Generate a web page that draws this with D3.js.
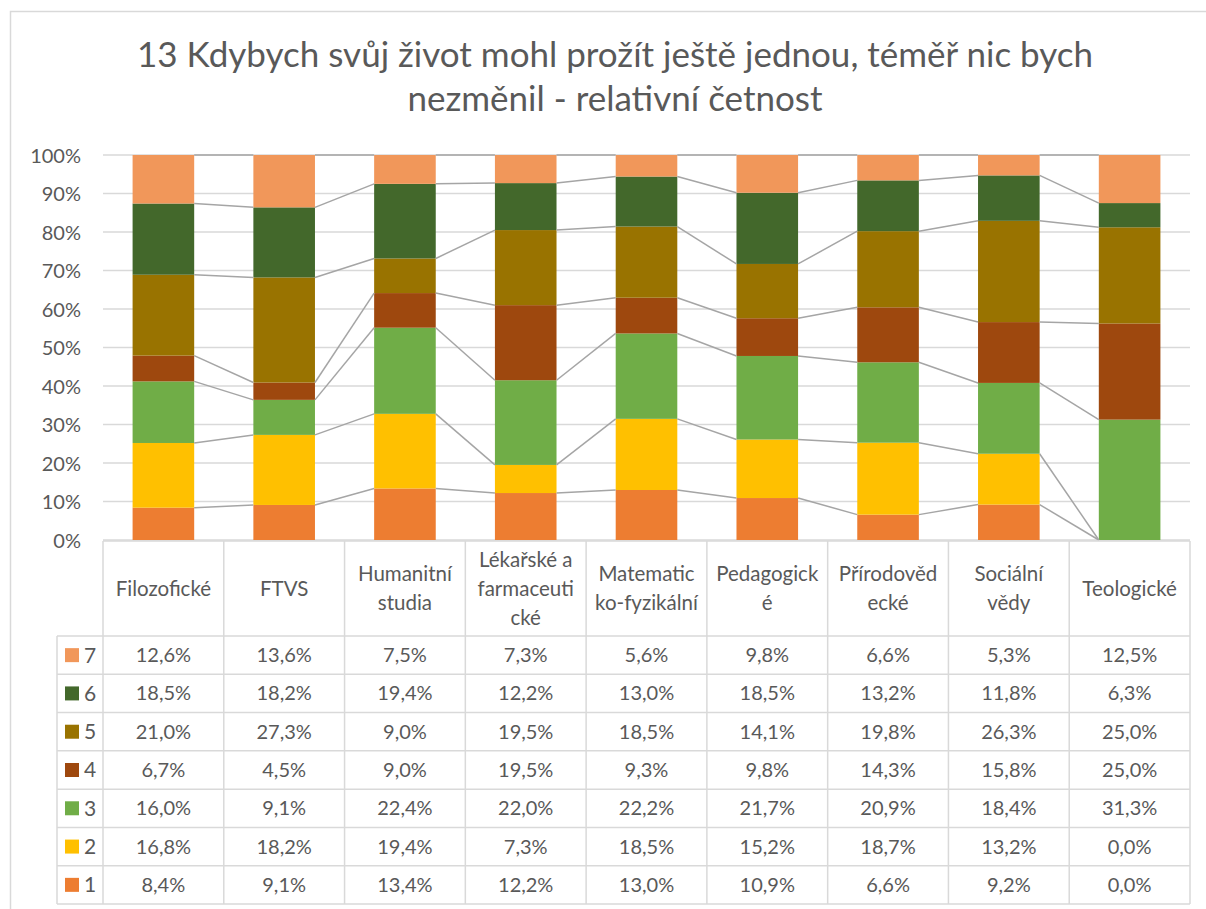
<!DOCTYPE html>
<html>
<head>
<meta charset="utf-8">
<script src="https://cdn.jsdelivr.net/npm/d3@7"></script>
<style>
  body { margin: 0; background: #fff; }
  text { font-family: Lato, "Open Sans", sans-serif; fill: #595959; }
</style>
</head>
<body>
<svg id="chart" width="1206" height="909"></svg>
<script>
// categories (faculties) and how Excel wrapped them in the table header
var faculties = ["Filozofické", "FTVS", "Humanitní studia", "Lékařské a farmaceutické",
  "Matematicko-fyzikální", "Pedagogické", "Přírodovědecké", "Sociální vědy", "Teologické"];
var headerLines = [["Filozofické"], ["FTVS"], ["Humanitní", "studia"], ["Lékařské a", "farmaceuti", "cké"],
  ["Matematic", "ko-fyzikální"], ["Pedagogick", "é"], ["Přírodověd", "ecké"], ["Sociální", "vědy"], ["Teologické"]];

// answer scale 1..7, relative frequencies in %
var answers = ["1", "2", "3", "4", "5", "6", "7"];
var s1 = [8.4, 9.1, 13.4, 12.2, 13.0, 10.9, 6.6, 9.2, 0.0];
var s2 = [16.8, 18.2, 19.4, 7.3, 18.5, 15.2, 18.7, 13.2, 0.0];
var s3 = [16.0, 9.1, 22.4, 22.0, 22.2, 21.7, 20.9, 18.4, 31.3];
var s4 = [6.7, 4.5, 9.0, 19.5, 9.3, 9.8, 14.3, 15.8, 25.0];
var s5 = [21.0, 27.3, 9.0, 19.5, 18.5, 14.1, 19.8, 26.3, 25.0];
var s6 = [18.5, 18.2, 19.4, 12.2, 13.0, 18.5, 13.2, 11.8, 6.3];
var s7 = [12.6, 13.6, 7.5, 7.3, 5.6, 9.8, 6.6, 5.3, 12.5];
var yTicks = [0, 0.1, 0.2, 0.3, 0.4, 0.5, 0.6, 0.7, 0.8, 0.9, 1];

var colors = ["#ED7D31", "#FFC000", "#70AD47", "#9E480E", "#997300", "#43682B", "#F1975A"];
var title = ["13 Kdybych svůj život mohl prožít ještě jednou, téměř nic bych", "nezměnil - relativní četnost"];

var series = [s1, s2, s3, s4, s5, s6, s7];
var rows = faculties.map(function(f, i) {
  var r = { faculty: f };
  answers.forEach(function(a, k) { r[a] = series[k][i]; });
  return r;
});

var svg = d3.select("#chart");
var grid = "#d9d9d9";

// chart area border
svg.append("rect")
    .attr("x", 10.5).attr("y", 11.5)
    .attr("width", 1220).attr("height", 920)
    .attr("fill", "none").attr("stroke", grid).attr("stroke-width", 1.5);

svg.append("text")
    .attr("text-anchor", "middle")
    .style("font-size", "35px")
    .selectAll("tspan")
    .data(title)
  .join("tspan")
    .attr("x", 615)
    .attr("y", function(d, i) { return 67 + i * 44; })
    .text(function(d) { return d; });

var plotLeft = 103, plotRight = 1190, plotTop = 155, plotBottom = 540;

var x = d3.scaleBand().domain(faculties).range([plotLeft, plotRight]).paddingInner(0.49).paddingOuter(0.245);
var band = (plotRight - plotLeft) / faculties.length;
var y = d3.scaleLinear().domain([0, 1]).range([plotBottom, plotTop]);

var stack = d3.stack().keys(answers).offset(d3.stackOffsetExpand);
var stacked = stack(rows);

// gridlines + y labels
svg.append("g")
    .selectAll("line")
    .data(yTicks)
  .join("line")
    .attr("x1", plotLeft).attr("x2", plotRight)
    .attr("y1", function(d) { return y(d); }).attr("y2", function(d) { return y(d); })
    .attr("stroke", grid).attr("stroke-width", 1.5);

var yAxis = svg.append("g")
    .attr("transform", "translate(" + (plotLeft - 22) + ",0)")
    .call(d3.axisLeft(y).tickValues(yTicks).tickSize(0).tickPadding(0).tickFormat(d3.format(".0%")));
yAxis.select(".domain").remove();
yAxis.selectAll("text")
    .attr("fill", "#595959")
    .attr("dy", "0.36em")
    .style("font-size", "20px")
    .style("font-family", "Lato, sans-serif");

// bars
var layer = svg.append("g")
    .selectAll("g")
    .data(stacked)
  .join("g")
    .attr("fill", function(d, i) { return colors[i]; });

layer.selectAll("rect")
    .data(function(d) { return d; })
  .join("rect")
    .attr("x", function(d) { return x(d.data.faculty); })
    .attr("width", x.bandwidth())
    .attr("y", function(d) { return y(d[1]); })
    .attr("height", function(d) { return y(d[0]) - y(d[1]); });

// series lines between neighbouring columns
var segs = [];
stacked.forEach(function(s) {
  for (var i = 0; i < s.length - 1; i++) {
    segs.push({ a: s[i], b: s[i + 1] });
  }
});
svg.append("g")
    .selectAll("line")
    .data(segs)
  .join("line")
    .attr("x1", function(d) { return x(d.a.data.faculty) + x.bandwidth(); })
    .attr("x2", function(d) { return x(d.b.data.faculty); })
    .attr("y1", function(d) { return y(d.a[1]); })
    .attr("y2", function(d) { return y(d.b[1]); })
    .attr("stroke", "#a5a5a5").attr("stroke-width", 1.5);

// data table
var headTop = 541, headBot = 636, rowH = (904 - 636) / 7, legLeft = 57;
var tbl = svg.append("g").attr("stroke", grid).attr("stroke-width", 1.5);

// vertical lines
tbl.selectAll("line.v")
    .data(d3.range(faculties.length + 1))
  .join("line")
    .attr("class", "v")
    .attr("x1", function(i) { return plotLeft + i * band; })
    .attr("x2", function(i) { return plotLeft + i * band; })
    .attr("y1", headTop).attr("y2", 904);
tbl.append("line").attr("x1", legLeft).attr("x2", legLeft).attr("y1", headBot).attr("y2", 904);

// horizontal lines
tbl.append("line").attr("x1", plotLeft).attr("x2", plotRight).attr("y1", headTop).attr("y2", headTop);
tbl.selectAll("line.h")
    .data(d3.range(8))
  .join("line")
    .attr("class", "h")
    .attr("x1", legLeft).attr("x2", plotRight)
    .attr("y1", function(i) { return headBot + i * rowH; })
    .attr("y2", function(i) { return headBot + i * rowH; });

// header labels
svg.append("g")
    .selectAll("text")
    .data(headerLines)
  .join("text")
    .attr("text-anchor", "middle")
    .style("font-size", "20.5px")
    .each(function(lines, i) {
      var cx = plotLeft + (i + 0.5) * band;
      var y0 = (headTop + headBot) / 2 - (lines.length - 1) * 14.5 + 7;
      d3.select(this).selectAll("tspan")
          .data(lines)
        .join("tspan")
          .attr("x", cx)
          .attr("y", function(d, k) { return y0 + k * 29; })
          .text(function(d) { return d; });
    });

// table rows, 7 on top
var fmt = function(v) { return v.toFixed(1).replace(".", ",") + "%"; };
var order = answers.slice().reverse();
var rowG = svg.append("g")
    .selectAll("g")
    .data(order)
  .join("g")
    .attr("transform", function(d, i) { return "translate(0," + (headBot + i * rowH) + ")"; });

rowG.append("rect")
    .attr("x", 65).attr("y", rowH / 2 - 7)
    .attr("width", 14).attr("height", 14)
    .attr("fill", function(d) { return colors[answers.indexOf(d)]; });
rowG.append("text")
    .attr("x", 84).attr("y", rowH / 2 + 7.5)
    .style("font-size", "21px")
    .text(function(d) { return d; });
rowG.selectAll("text.val")
    .data(function(d) { return series[answers.indexOf(d)]; })
  .join("text")
    .attr("class", "val")
    .attr("x", function(v, i) { return plotLeft + (i + 0.5) * band; })
    .attr("y", rowH / 2 + 7)
    .attr("text-anchor", "middle")
    .style("font-size", "20px")
    .text(fmt);
</script>
</body>
</html>
